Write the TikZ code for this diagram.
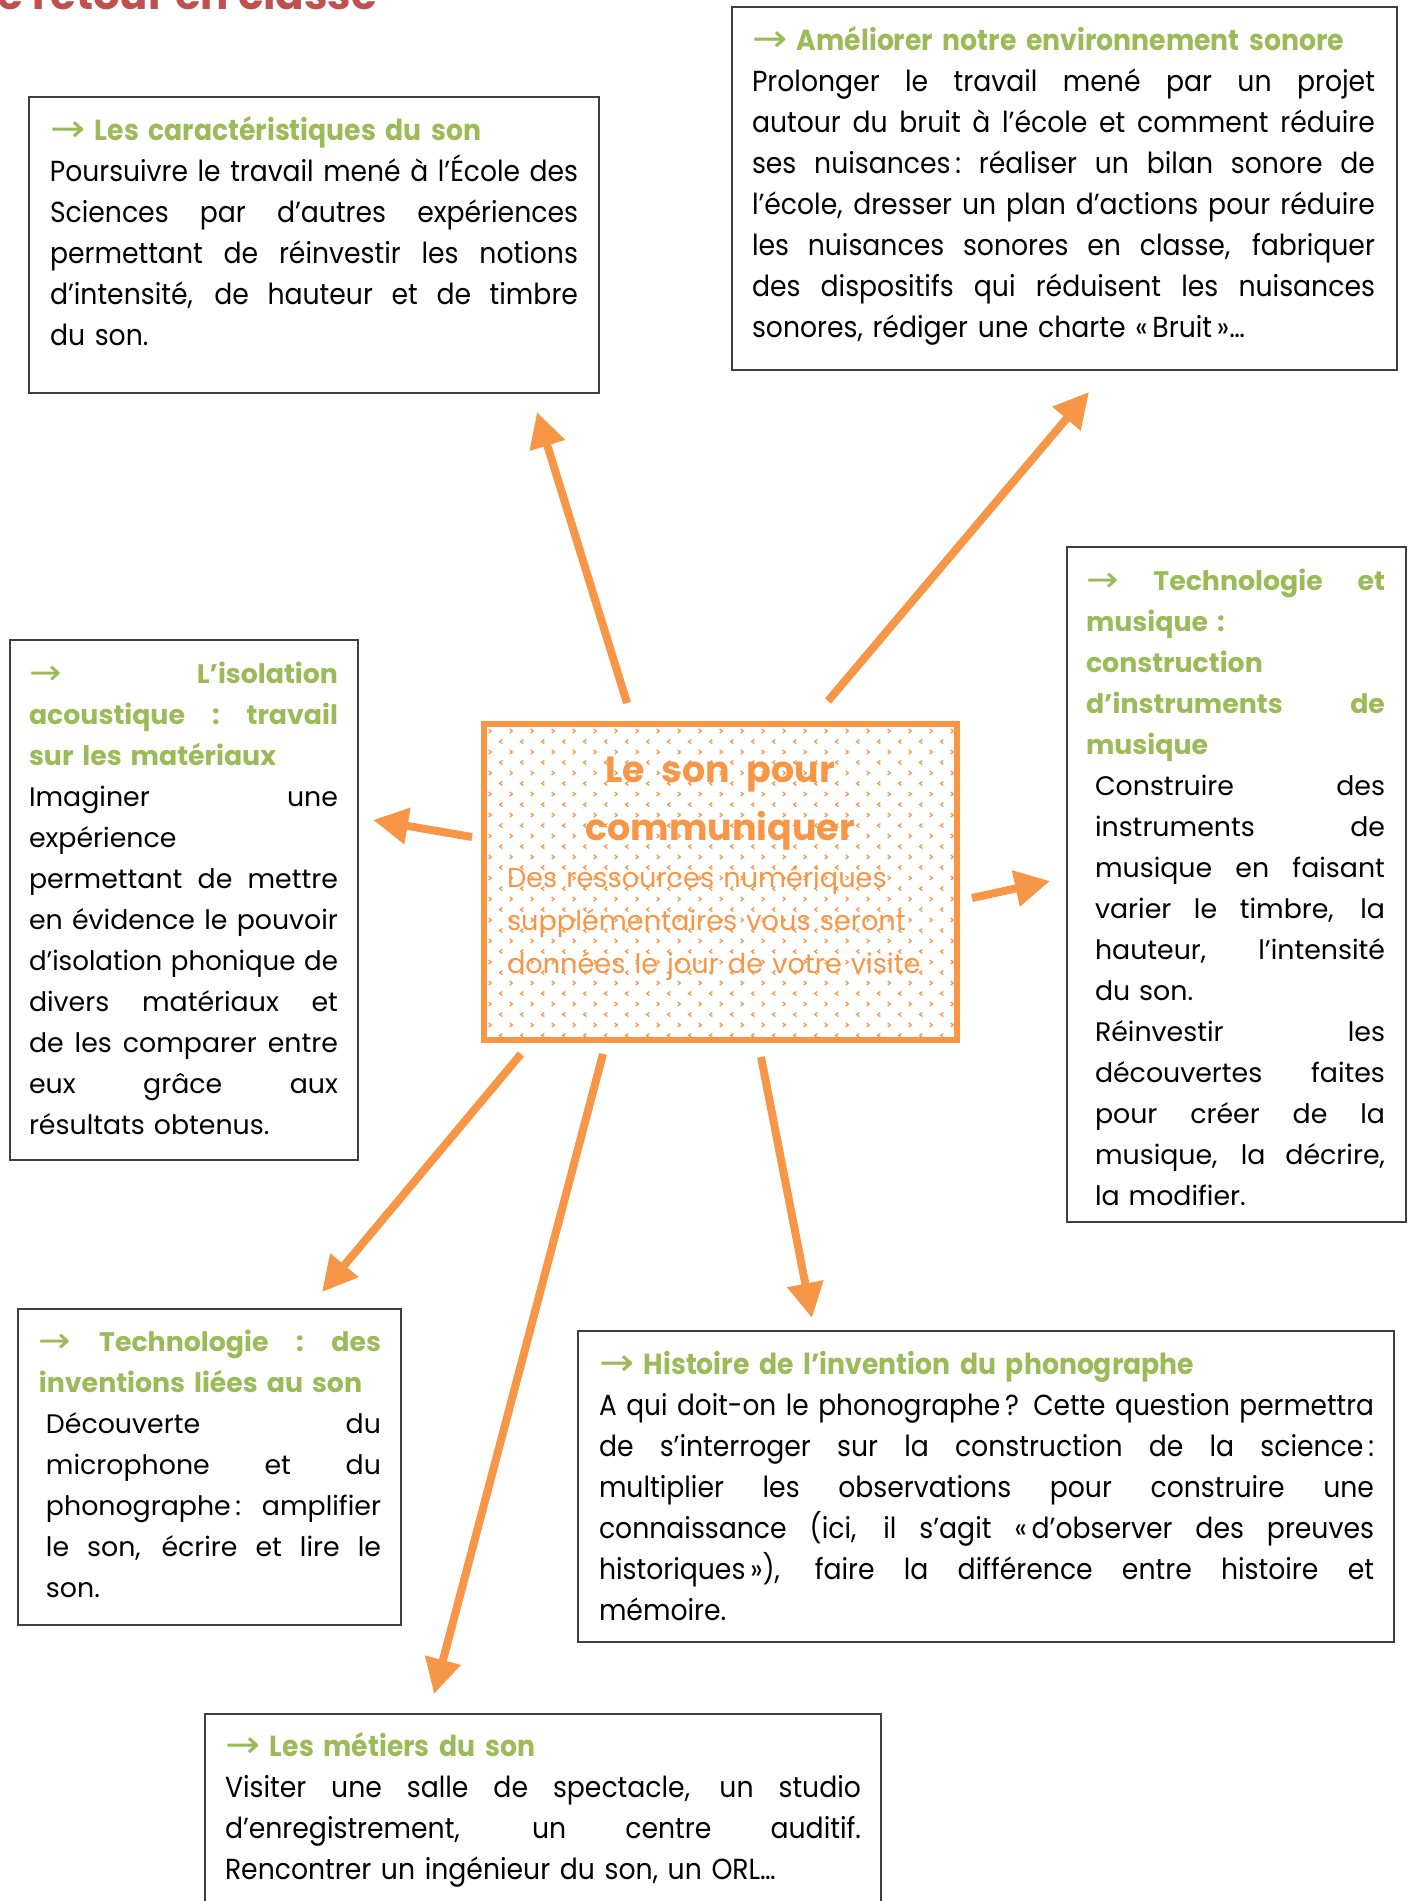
\documentclass[tikz,border=0pt]{standalone}
\usepackage{fontspec}
\setmainfont{Poppins}
\newfontfamily\narrowfont{Poppins}[FakeStretch=0.92]
\newfontfamily\arrowfont{DejaVu Sans}
\usetikzlibrary{arrows.meta}
\definecolor{orng}{HTML}{F79646}
\definecolor{grn}{HTML}{9BBB59}
\definecolor{ttlred}{HTML}{C0504D}
\definecolor{frame}{HTML}{3F3F3F}
\newsavebox\jlbox
\newlength\jlw
\newcommand\jl[1]{\leavevmode\sbox\jlbox{#1}\setlength\jlw{\wd\jlbox}%
  \ifdim\jlw>\linewidth\scalebox{\fpeval{\linewidth/\jlw}}[1]{\usebox\jlbox}%
  \else\hbox to \linewidth{\spaceskip=\fontdimen2\font plus 1fil\relax
    \xspaceskip=\spaceskip #1}\fi}
\newcommand\hd[1]{{\color{grn}\bfseries #1}}
\newcommand\arw{{\arrowfont\mdseries\raisebox{-0.5pt}{\scalebox{1.45}[1.3]{→}}}}
\tikzset{
  frm/.style={draw=frame, line width=0.75pt},
  txt/.style={anchor=base west, inner sep=0pt, outer sep=0pt, align=left},
  narrowtxt/.style={txt, font=\narrowfont\fontsize{14.5}{20.5}\selectfont},
  widetxt/.style={txt, font=\fontsize{13.4}{20.5}\selectfont},
  arr/.style={draw=orng, line width=4pt, -{Triangle[length=17.5pt,width=17.5pt]}},
}
\begin{document}
\begin{tikzpicture}[x=0.5pt,y=-0.5pt]
\useasboundingbox (0,0) rectangle (1410,1901);
\clip (0,0) rectangle (1410,1901);

% top title (cut off)
\node[anchor=base west, inner sep=0pt, text=ttlred, font=\bfseries\fontsize{21}{24}\selectfont] (ttl) at (-3,9) {e retour en classe};

% frames
\draw[frm] (29,97) rectangle (599,393);
\draw[frm] (732,7) rectangle (1397,370);
\draw[frm] (10,640) rectangle (358,1160);
\draw[frm] (1067,547) rectangle (1406,1222);
\draw[frm] (18,1309) rectangle (401,1625);
\draw[frm] (578,1331) rectangle (1394,1642);
\draw[frm] (205,1714) rectangle (881,1930);

% central box with pattern
\begin{scope}
\clip (486,726) rectangle (955,1038);
\foreach \j in {0,...,30} {
  \pgfmathsetmacro\yy{731+\j*10.5}
  \ifodd\j
    \foreach \i in {0,...,23} {
      \draw[orng, line width=0.65pt] ({501+\i*21+1.3},\yy-2) -- ++(-2.6,2) -- ++(2.6,2);
    }
  \else
    \foreach \i in {0,...,23} {
      \draw[orng, line width=0.65pt] ({490+\i*21-1.3},\yy-2) -- ++(2.6,2) -- ++(-2.6,2);
    }
  \fi
}
\end{scope}
\draw[orng, line width=2.6pt] (484,724) rectangle (957,1040);
\node[anchor=base, inner sep=0pt, text=orng, font=\bfseries\fontsize{18.2}{28}\selectfont] (ct1) at (720,782) {Le\hspace{0.25em} son\hspace{0.25em} pour};
\node[anchor=base, inner sep=0pt, text=orng, font=\bfseries\fontsize{18.2}{28}\selectfont] (ct2) at (720,840) {communiquer};
\node[txt, text width=222pt, text=orng, font=\fontsize{13.6}{21.5}\selectfont] (csub) at (507,887)
  {Des ressources numériques\\supplémentaires vous seront\\données le jour de votre visite};

% Box A
\node[narrowtxt, text width=264pt] (ta) at (50,140) {%
\hd{\arw{} Les caractéristiques du son}\\
\jl{Poursuivre le travail mené à l’École des}\\
\jl{Sciences par d’autres expériences}\\
\jl{permettant de réinvestir les notions}\\
\jl{d’intensité, de hauteur et de timbre}\\
du son.};

% Box B
\node[narrowtxt, text width=311.5pt] (tb) at (752,50) {%
\hd{\arw{} Améliorer notre environnement sonore}\\
\jl{Prolonger le travail mené par un projet}\\
\jl{autour du bruit à l’école et comment réduire}\\
\jl{ses nuisances\,: réaliser un bilan sonore de}\\
\jl{l’école, dresser un plan d’actions pour réduire}\\
\jl{les nuisances sonores en classe, fabriquer}\\
\jl{des dispositifs qui réduisent les nuisances}\\
sonores, rédiger une charte «\,Bruit\,»…};

% Box C
\node[widetxt, text width=154.5pt] (tc) at (29,683) {%
\jl{\hd{\arw{} L’isolation}}\\
\jl{\hd{acoustique : travail}}\\
\hd{sur les matériaux}\\
\jl{Imaginer une}\\
expérience\\
\jl{permettant de mettre}\\
\jl{en évidence le pouvoir}\\
\jl{d’isolation phonique de}\\
\jl{divers matériaux et}\\
\jl{de les comparer entre}\\
\jl{eux grâce aux}\\
résultats obtenus.};

% Box D
\node[widetxt, text width=149.5pt] (tdh) at (1086,590) {%
\jl{\hd{\arw{} Technologie et}}\\
\hd{musique :}\\
\hd{construction}\\
\jl{\hd{d’instruments de}}\\
\hd{musique}};
\node[widetxt, text width=145pt] (tdb) at (1095,795) {%
\jl{Construire des}\\
\jl{instruments de}\\
\jl{musique en faisant}\\
\jl{varier le timbre, la}\\
\jl{hauteur, l’intensité}\\
du son.\\
\jl{Réinvestir les}\\
\jl{découvertes faites}\\
\jl{pour créer de la}\\
\jl{musique, la décrire,}\\
la modifier.};

% Box E
\node[widetxt, text width=171pt] (teh) at (39,1351) {%
\jl{\hd{\arw{} Technologie : des}}\\
\hd{inventions liées au son}};
\node[widetxt, text width=167.5pt] (teb) at (46,1433) {%
\jl{Découverte du}\\
\jl{microphone et du}\\
\jl{phonographe\,: amplifier}\\
\jl{le son, écrire et lire le}\\
son.};

% Box F
\node[narrowtxt, text width=387.5pt] (tf) at (599,1374) {%
\hd{\arw{} Histoire de l’invention du phonographe}\\
\jl{A qui doit-on le phonographe\,? Cette question permettra}\\
\jl{de s’interroger sur la construction de la science\,:}\\
\jl{multiplier les observations pour construire une}\\
\jl{connaissance (ici, il s’agit «\,d’observer des preuves}\\
\jl{historiques\,»), faire la différence entre histoire et}\\
mémoire.};

% Box G
\node[narrowtxt, text width=318pt] (tg) at (225,1756) {%
\hd{\arw{} Les métiers du son}\\
\jl{Visiter une salle de spectacle, un studio}\\
\jl{d’enregistrement, un centre auditif.}\\
Rencontrer un ingénieur du son, un ORL…};

% arrows
\coordinate (s1) at (627,703);  \coordinate (e1) at (537,412);
\coordinate (s2) at (828,701);  \coordinate (e2) at (1089,392);
\coordinate (s3) at (472,837);  \coordinate (e3) at (373,820);
\coordinate (s4) at (972,898);  \coordinate (e4) at (1050,881);
\coordinate (s5) at (521,1054); \coordinate (e5) at (322,1292);
\coordinate (s6) at (603,1054); \coordinate (e6) at (434,1694);
\coordinate (s7) at (761,1057); \coordinate (e7) at (812,1318);
\draw[arr] (s1) -- (e1);
\draw[arr] (s2) -- (e2);
\draw[arr] (s3) -- (e3);
\draw[arr] (s4) -- (e4);
\draw[arr] (s5) -- (e5);
\draw[arr] (s6) -- (e6);
\draw[arr] (s7) -- (e7);
\end{tikzpicture}
\end{document}
